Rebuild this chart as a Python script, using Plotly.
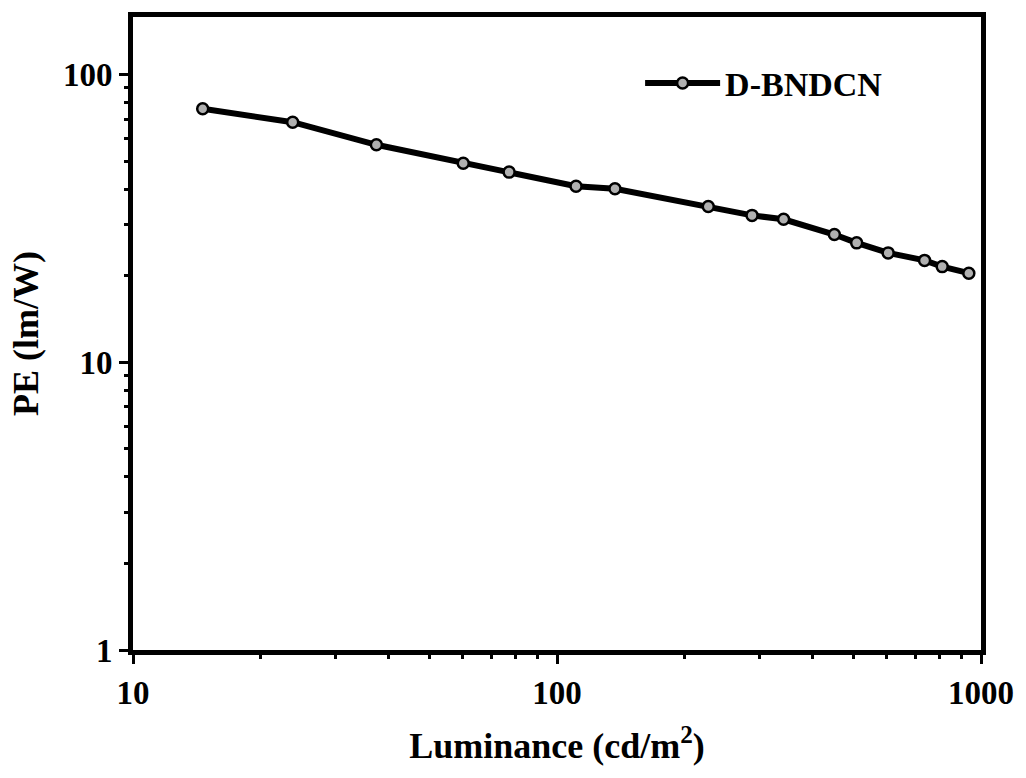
import plotly.graph_objects as go

luminance = [14.6, 23.8, 37.5, 60.1, 77.1, 110.9, 137.0, 227.4, 288.4, 342.3,
             451.0, 509.0, 604.0, 736.0, 810.0, 936.0]
pe = [76.0, 68.3, 57.0, 49.2, 45.8, 40.9, 40.1, 34.8, 32.4, 31.4,
      27.8, 26.0, 24.0, 22.6, 21.5, 20.4]
series_name = "D-BNDCN"

FONT = "Liberation Serif"

fig = go.Figure()
fig.add_trace(go.Scatter(
    x=luminance, y=pe, name="<b>" + series_name + "</b>", mode="lines+markers",
    line=dict(color="black", width=6),
    marker=dict(symbol="circle", size=11, color="#b0b0b0",
                line=dict(color="black", width=2.5)),
))

axis_common = dict(
    type="log", showgrid=False, zeroline=False,
    showline=True, linecolor="black", linewidth=5, mirror=True,
    ticks="outside", ticklen=9, tickwidth=3, tickcolor="black",
    tickfont=dict(family=FONT, size=33, color="black"),
    minor=dict(ticks="outside", ticklen=4, tickwidth=2.5, tickcolor="black", showgrid=False),
    dtick=1,
)

fig.update_xaxes(
    **axis_common, range=[1, 3],
    tickprefix="<b>", ticksuffix="</b>",
    title=dict(text="<b>Luminance (cd/m<sup>2</sup>)</b>",
               font=dict(family=FONT, size=36, color="black"), standoff=25),
)
fig.update_yaxes(
    **axis_common, range=[0, 2.2],
    tickprefix="<b>", ticksuffix="</b>",
    title=dict(text="<b>PE (lm/W)</b>",
               font=dict(family=FONT, size=36, color="black"), standoff=15),
)

fig.update_layout(
    width=1026, height=778,
    margin=dict(l=133, r=41, t=16, b=128),
    paper_bgcolor="white", plot_bgcolor="white",
    showlegend=True,
    legend=dict(x=0.598, y=0.895, xanchor="left", yanchor="middle",
                bgcolor="rgba(0,0,0,0)", itemwidth=75,
                font=dict(family=FONT, size=34, color="black")),
)

fig.write_html("out.html")
